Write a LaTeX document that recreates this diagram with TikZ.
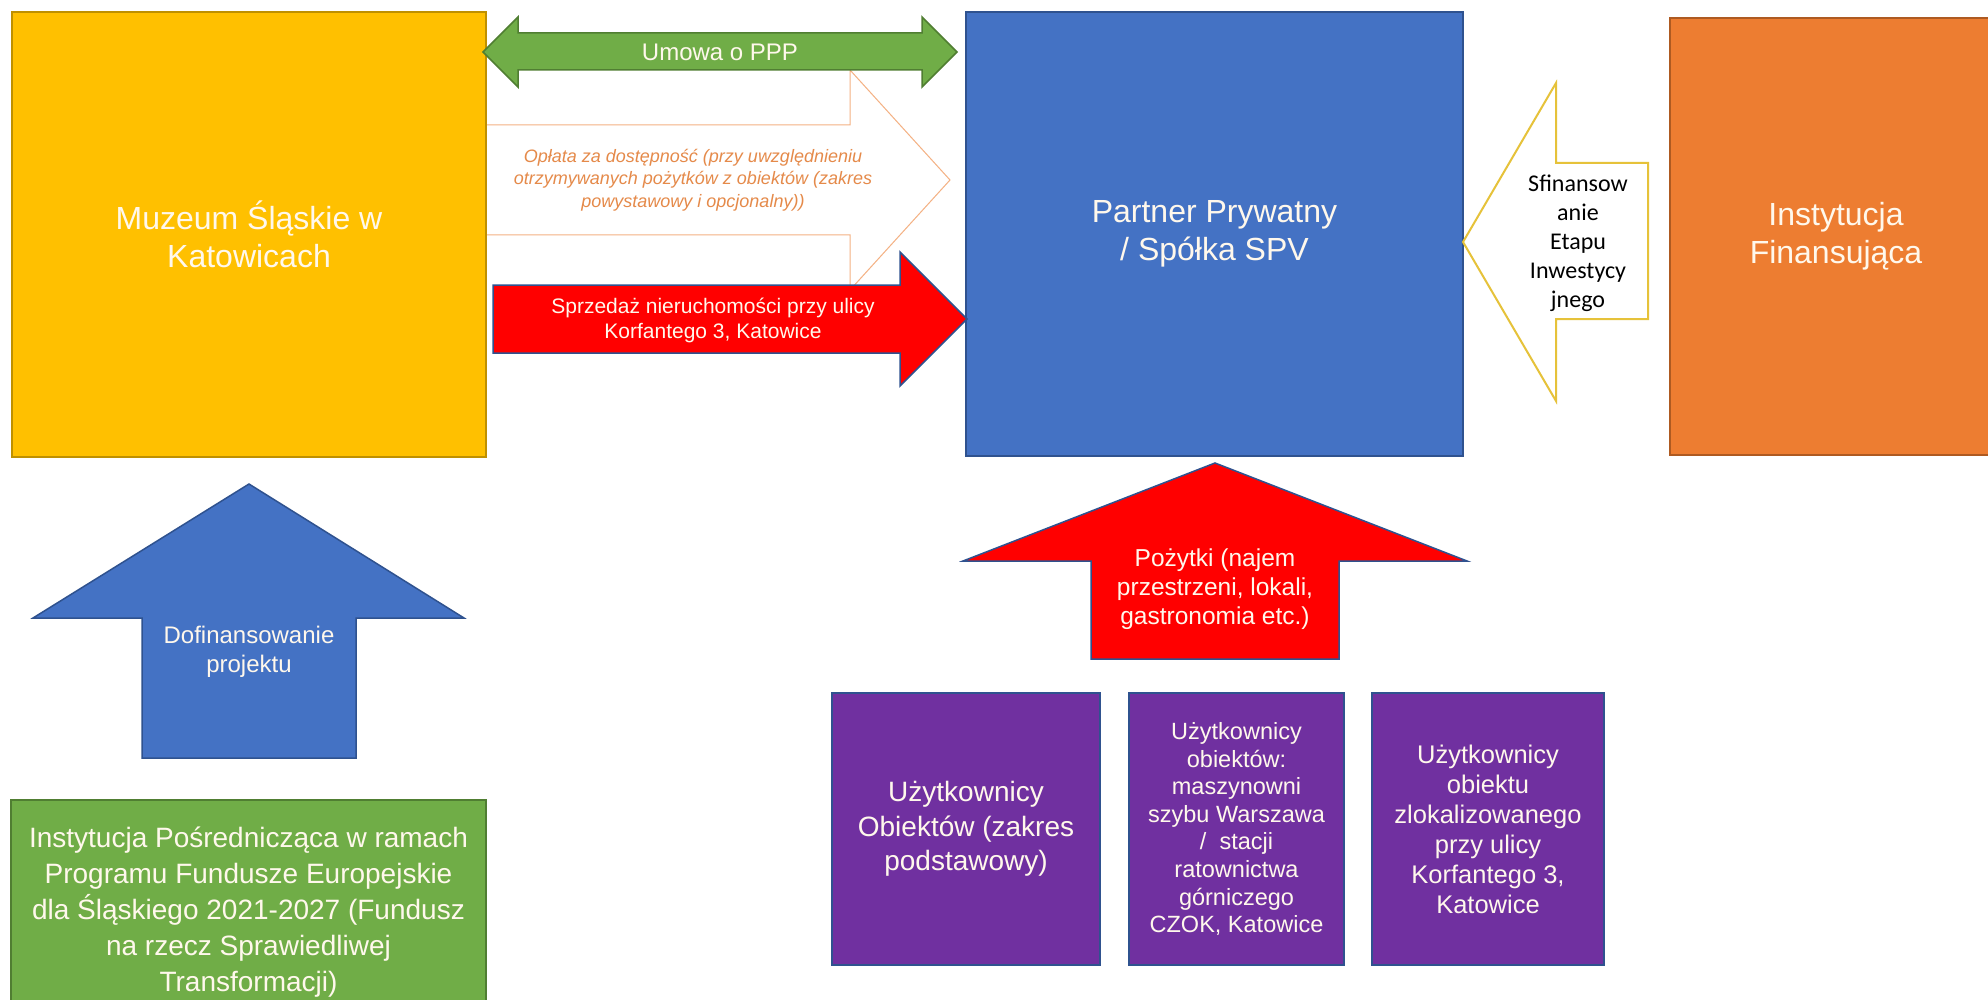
\documentclass[tikz,border=0pt]{standalone}
\usepackage{fontspec}
\setmainfont{Liberation Sans}
\newfontfamily\calib{Carlito}
\definecolor{cyel}{HTML}{FFC000}
\definecolor{cyelb}{HTML}{BF9000}
\definecolor{cblue}{HTML}{4472C4}
\definecolor{cblueb}{HTML}{2F528F}
\definecolor{corg}{HTML}{ED7D31}
\definecolor{corgb}{HTML}{AE5A21}
\definecolor{cgrn}{HTML}{70AD47}
\definecolor{cgrnb}{HTML}{507E32}
\definecolor{cred}{HTML}{FF0000}
\definecolor{cpur}{HTML}{7030A0}
\definecolor{copl}{HTML}{F4B183}
\definecolor{copltxt}{HTML}{E58A4A}
\definecolor{cyelo}{HTML}{E6C23A}
\definecolor{ctxt}{HTML}{FFF8EC}
\begin{document}
\begin{tikzpicture}[x=1pt,y=-1pt,
  box/.style={draw, line width=1.8pt, text=ctxt, align=center, inner sep=0pt},
  lbl/.style={align=center, inner sep=0pt},
  blockarrow/.style={line width=1.5pt, line join=miter}]
\useasboundingbox[fill=white] (0,0) rectangle (1988,1000);

% outline arrow (behind the museum box)
\draw[blockarrow, fill=white, draw=copl, line width=1pt] (470,125) -- (850,125) -- (850,70) -- (950,180) -- (850,290) -- (850,235) -- (470,235) -- cycle;

% main boxes
\node[box, fill=cyel, draw=cyelb, minimum width=474pt, minimum height=445pt,
  font=\fontsize{32}{38}\selectfont] (muz) at (249,234.5) {Muzeum Śląskie w\\Katowicach};
\node[box, fill=cblue, draw=cblueb, minimum width=497pt, minimum height=444pt,
  font=\fontsize{32}{38}\selectfont] (spv) at (1214.5,234) {Partner Prywatny\\/ Spółka SPV};
\node[box, fill=corg, draw=corgb, minimum width=332pt, minimum height=437pt,
  font=\fontsize{32}{38}\selectfont] (fin) at (1836,236.5) {Instytucja\\Finansująca};

% green double arrow
\draw[blockarrow, fill=cgrn, draw=cgrnb] (483,52) -- (518,17) -- (518,33) -- (922,33) -- (922,17) -- (957,52) -- (922,87) -- (922,70) -- (518,70) -- (518,87) -- cycle;
\node[lbl, text=ctxt, font=\fontsize{24}{28}\selectfont] (ppp) at (720,52) {Umowa o PPP};

% outline arrow text
\node[lbl, text=copltxt, font=\fontsize{18}{22.5}\selectfont\itshape] (opl) at (693,180)
  {Opłata za dostępność (przy uwzględnieniu\\otrzymywanych pożytków z obiektów (zakres\\powystawowy i opcjonalny))};

% red right arrow
\draw[blockarrow, fill=cred, draw=cblueb] (493,285) -- (900,285) -- (900,252) -- (967,319) -- (900,386) -- (900,353) -- (493,353) -- cycle;
\node[lbl, text=ctxt, font=\fontsize{21}{25}\selectfont] (sprz) at (713,320)
  {Sprzedaż nieruchomości przy ulicy\\Korfantego 3, Katowice};

% yellow outline arrow
\draw[blockarrow, fill=white, draw=cyelo, line width=2pt] (1463,242) -- (1556,83) -- (1556,163) -- (1648,163) -- (1648,319) -- (1556,319) -- (1556,401) -- cycle;
\node[lbl, text=black, font=\calib\fontsize{24}{29}\selectfont] (sfin) at (1578,243)
  {Sfinansow\\anie\\Etapu\\Inwestycy\\jnego};

% blue up arrow
\draw[blockarrow, fill=cblue, draw=cblueb] (249,484) -- (464,618) -- (356,618) -- (356,758) -- (142,758) -- (142,618) -- (33,618) -- cycle;
\node[lbl, text=ctxt, font=\fontsize{24}{29}\selectfont] (dof) at (249,652) {Dofinansowanie\\projektu};

% green box
\node[box, fill=cgrn, draw=cgrnb, minimum width=475pt, minimum height=224pt,
  font=\fontsize{28}{36}\selectfont] (ip) at (248.5,912)
  {Instytucja Pośrednicząca w ramach\\Programu Fundusze Europejskie\\dla Śląskiego 2021-2027 (Fundusz\\na rzecz Sprawiedliwej\\Transformacji)};

% red up arrow
\draw[blockarrow, fill=cred, draw=cblueb] (1215,463) -- (1467,561) -- (1339,561) -- (1339,659) -- (1091,659) -- (1091,561) -- (963,561) -- cycle;
\node[lbl, text=ctxt, font=\fontsize{24.5}{29}\selectfont] (poz) at (1215,589)
  {Pożytki (najem\\przestrzeni, lokali,\\gastronomia etc.)};

% purple boxes
\node[box, fill=cpur, draw=cblueb, line width=1.2pt, minimum width=268pt, minimum height=272pt,
  font=\fontsize{28}{34.5}\selectfont] (u1) at (966,829)
  {Użytkownicy\\Obiektów (zakres\\podstawowy)};
\node[box, fill=cpur, draw=cblueb, line width=1.2pt, minimum width=215pt, minimum height=272pt,
  font=\fontsize{23.5}{27.6}\selectfont] (u2) at (1236.5,829)
  {Użytkownicy\\obiektów:\\maszynowni\\szybu Warszawa\\/\ \ stacji\\ratownictwa\\górniczego\\CZOK, Katowice};
\node[box, fill=cpur, draw=cblueb, line width=1.2pt, minimum width=232pt, minimum height=272pt,
  font=\fontsize{25.5}{30}\selectfont] (u3) at (1488,829)
  {Użytkownicy\\obiektu\\zlokalizowanego\\przy ulicy\\Korfantego 3,\\Katowice};
\end{tikzpicture}
\end{document}
